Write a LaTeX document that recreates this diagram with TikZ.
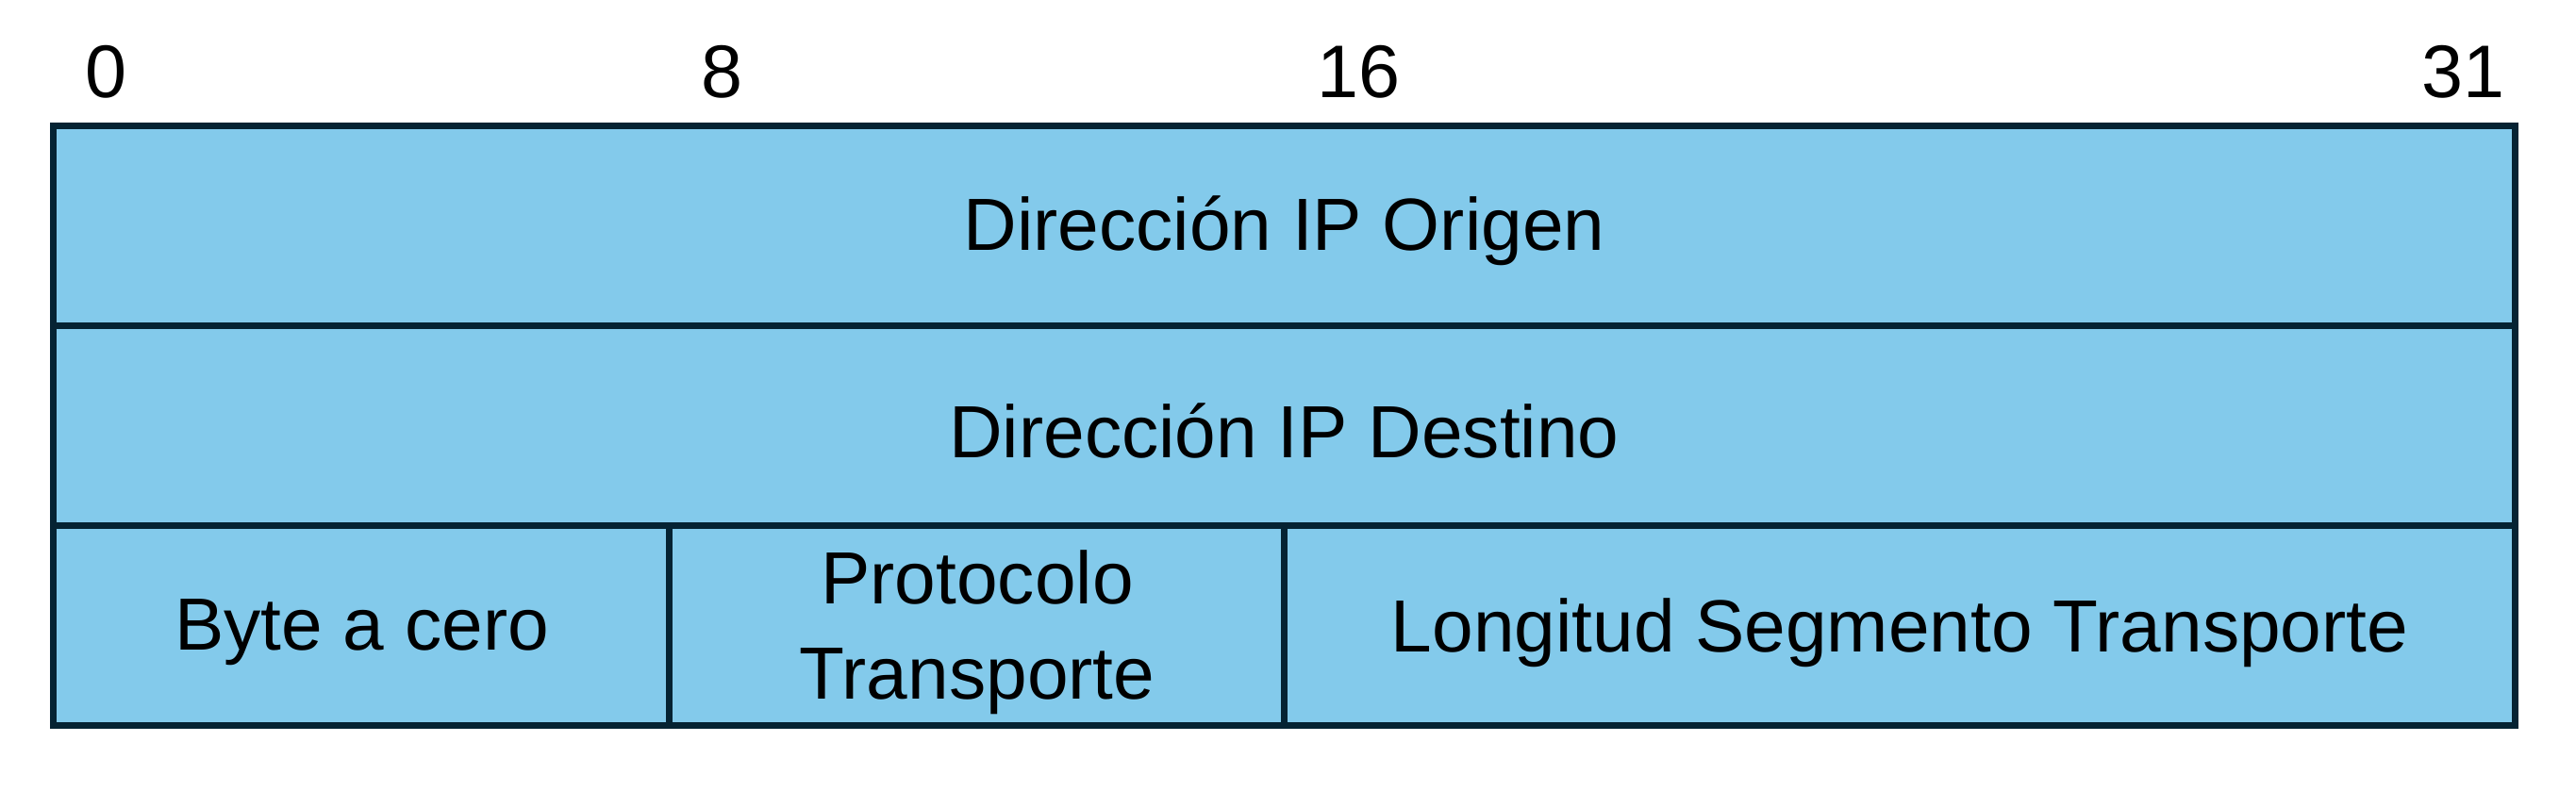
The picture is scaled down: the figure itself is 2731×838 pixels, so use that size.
\documentclass[tikz,border=0pt]{standalone}
\usepackage{fontspec}
\setmainfont{Liberation Sans}
\definecolor{cellfill}{RGB}{131,202,235}
\definecolor{celledge}{RGB}{5,35,51}
\begin{document}
\begin{tikzpicture}[x=0.01cm,y=-0.01cm,
  cell/.style={draw=celledge, fill=cellfill, line width=2pt, minimum height=2.12cm, inner sep=0pt},
  celltext/.style={inner sep=0pt, font=\fontsize{22.3}{28.8}\selectfont, align=center},
  bitlabel/.style={inner sep=0pt, font=\fontsize{22.5}{26}\selectfont}]
\useasboundingbox (0,0) rectangle (2731,838);
\node[cell, minimum width=26.09cm] (src) at (1361.5,239.5) {};
\node[cell, minimum width=26.09cm] (dst) at (1361.5,451.5) {};
\node[cell, minimum width=6.53cm] (zero) at (383.5,663.75) {};
\node[cell, minimum width=6.52cm] (proto) at (1036,663.75) {};
\node[cell, minimum width=13.04cm] (len) at (2014,663.75) {};
\node[celltext] (srct) at ([yshift=-0.05cm]src.center) {Dirección IP Origen};
\node[celltext] (dstt) at ([yshift=-0.05cm]dst.center) {Dirección IP Destino};
\node[celltext] (zerot) at ([yshift=-0.07cm]zero.center) {Byte a cero};
\node[celltext] (protot) at ([yshift=-0.07cm]proto.center) {Protocolo\\Transporte};
\node[celltext] (lent) at ([yshift=-0.07cm]len.center) {Longitud Segmento Transporte};
\node[bitlabel, anchor=base west] (b0) at (90,103) {0};
\node[bitlabel, anchor=base west] (b8) at (743,103) {8};
\node[bitlabel, anchor=base west] (b16) at (1396,103) {16};
\node[bitlabel, anchor=base east] (b31) at (2656,103) {31};
\end{tikzpicture}
\end{document}
